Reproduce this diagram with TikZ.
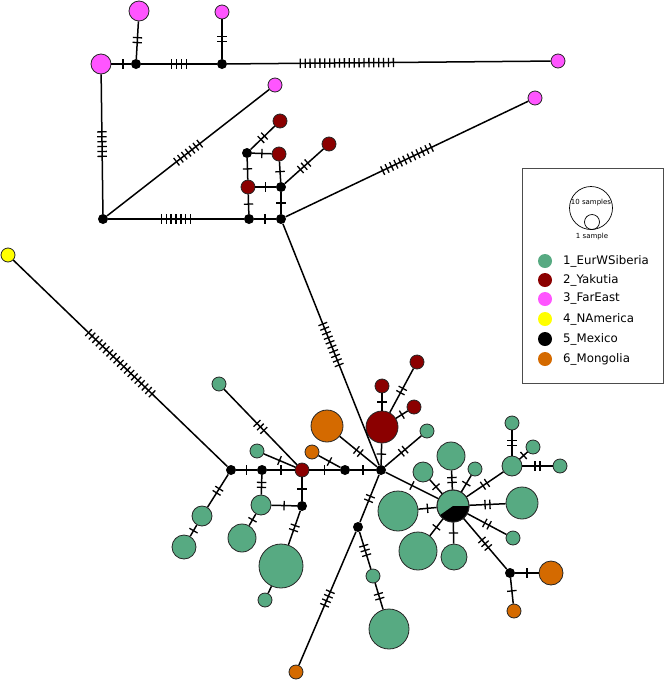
\documentclass[tikz,border=0pt]{standalone}
\usepackage{fontspec}
\setmainfont{DejaVu Sans}
\usetikzlibrary{decorations.markings}
\definecolor{cgreen}{RGB}{87,170,130}
\definecolor{cred}{RGB}{139,0,0}
\definecolor{cpink}{RGB}{255,85,255}
\definecolor{cyel}{RGB}{255,255,0}
\definecolor{corange}{RGB}{212,106,0}
\tikzset{
  hap/.style={circle, draw=black!85, line width=0.8pt, inner sep=0pt, minimum size={#1*2pt}},
  hg/.style={hap=#1, fill=cgreen},
  hr/.style={hap=#1, fill=cred},
  hp/.style={hap=#1, fill=cpink},
  hy/.style={hap=#1, fill=cyel},
  ho/.style={hap=#1, fill=corange},
  jn/.style={circle, fill=black, inner sep=0pt, minimum size=10pt},
  edge/.style={line width=1.5pt, black},
  tickln/.style={line width=1.3pt, black},
  legtext/.style={anchor=west, font=\fontsize{11.8}{13}\selectfont, inner sep=0pt},
}
\newcommand\edg[4][0.5]{%
  \ifnum#4=0\relax
    \draw[edge] (#2) -- (#3);
  \else
    \draw[edge, postaction={decorate, decoration={markings, mark=at position #1 with {%
      \foreach \k in {1,...,#4}{\draw[tickln] ({(\k-1-(#4-1)/2)*4.9pt},-4.7pt) -- ({(\k-1-(#4-1)/2)*4.9pt},4.7pt);}}}}] (#2) -- (#3);
  \fi}
\begin{document}
\begin{tikzpicture}[x=1pt, y=-1pt]
\useasboundingbox (0,0) rectangle (665,681);
% ---- nodes ----
\node[hp=10] (P1) at (101,64) {};
\node[jn] (J1) at (136,64) {};
\node[hp=10] (P2) at (139,11) {};
\node[jn] (J2) at (222,64) {};
\node[hp=7] (P3) at (222,12) {};
\node[hp=7] (P4) at (558,61) {};
\node[jn] (J3) at (103,219) {};
\node[hp=7] (P5) at (275,85) {};
\node[jn] (J4) at (249,219) {};
\node[jn] (J5) at (281,219) {};
\node[hr=7] (R1) at (248,187) {};
\node[jn] (J6) at (281,187) {};
\node[jn] (J7) at (247,153) {};
\node[hr=7] (R2) at (279,154) {};
\node[hr=7] (R3) at (280,121) {};
\node[hr=7] (R4) at (329,144) {};
\node[hp=7] (P6) at (535,98) {};
\node[jn] (H) at (381,470) {};
\node[hy=7] (Y) at (8,255) {};
\node[jn] (J8) at (231,470) {};
\node[jn] (J9) at (262,470) {};
\node[hr=7] (R5) at (302,470) {};
\node[jn] (J10) at (345,470) {};
\node[hg=7] (G1) at (219,384) {};
\node[hg=7] (G2) at (257,451) {};
\node[hg=10] (G3) at (261,505) {};
\node[jn] (J11) at (302,506) {};
\node[hg=10] (G4) at (202,516) {};
\node[hg=12] (G5) at (184,547) {};
\node[hg=14] (G6) at (242,538) {};
\node[hg=22] (G7) at (281,566) {};
\node[hg=7] (G8) at (265,600) {};
\node[ho=16] (O1) at (327,426) {};
\node[ho=7] (O2) at (312,452) {};
\node[hr=16] (R6) at (382,427) {};
\node[hr=7] (R7) at (417,362) {};
\node[hr=7] (R8) at (382,386) {};
\node[hr=7] (R9) at (414,407) {};
\node[hg=7] (G11) at (427,431) {};
\node[jn] (J12) at (358,527) {};
\node[hg=7] (G9) at (373,576) {};
\node[hg=20] (G10) at (389,629) {};
\node[ho=7] (O3) at (296,672) {};
\node[hg=16] (Q) at (453,506) {};
\fill[black] (Q.center) -- ++(0:16) arc[start angle=0, end angle=145, radius=16] -- cycle;
\draw[black!85, line width=0.8pt] (Q.center) circle[radius=16];
\node[hg=20] (G12) at (398,511) {};
\node[hg=19] (G13) at (418,551) {};
\node[hg=13] (G14) at (454,557) {};
\node[hg=10] (G15) at (423,472) {};
\node[hg=14] (G16) at (451,456) {};
\node[hg=7] (G17) at (475,469) {};
\node[hg=10] (G18) at (512,466) {};
\node[hg=16] (G19) at (522,503) {};
\node[hg=7] (G20) at (513,538) {};
\node[jn] (J13) at (510,573) {};
\node[ho=12] (O4) at (551,573) {};
\node[ho=7] (O5) at (514,611) {};
\node[hg=7] (G21) at (512,423) {};
\node[hg=7] (G22) at (533,447) {};
\node[hg=7] (G23) at (560,466) {};
% ---- edges ----
\edg[0.6]{P1}{J1}{1}
\edg{J1}{P2}{2}
\edg{J1}{J2}{4}
\edg{J2}{P3}{2}
\edg[0.37]{J2}{P4}{20}
\edg{P1}{J3}{6}
\edg{J3}{P5}{7}
\edg{J3}{J4}{7}
\edg{J4}{J5}{1}
\edg{J4}{R1}{1}
\edg{R1}{J6}{1}
\edg{J6}{J5}{1}
\edg{R1}{J7}{1}
\edg{J7}{R2}{1}
\edg{R2}{J6}{1}
\edg{J7}{R3}{2}
\edg{J6}{R4}{3}
\edg{J5}{P6}{12}
\edg{J5}{H}{10}
\edg{Y}{J8}{19}
\edg{J8}{J9}{1}
\edg{J9}{R5}{1}
\edg{R5}{J10}{1}
\edg{J10}{H}{1}
\edg{G1}{R5}{3}
\edg{G2}{R5}{1}
\edg{J9}{G3}{2}
\edg{R5}{J11}{1}
\edg{G3}{J11}{1}
\edg{J8}{G4}{2}
\edg{G4}{G5}{1}
\edg{G3}{G6}{1}
\edg{J11}{G7}{2}
\edg{G7}{G8}{0}
\edg{O1}{H}{2}
\edg{O2}{J10}{1}
\edg{R6}{H}{1}
\edg{R7}{R6}{2}
\edg{R8}{R6}{1}
\edg{R9}{R6}{1}
\edg{G11}{H}{2}
\edg{H}{J12}{2}
\edg{J12}{G9}{3}
\edg{G9}{G10}{2}
\edg{J12}{O3}{4}
\edg{H}{Q}{1}
\edg{Q}{G12}{1}
\edg{Q}{G13}{1}
\edg{Q}{G14}{1}
\edg{Q}{G15}{1}
\edg{Q}{G16}{2}
\edg{Q}{G17}{1}
\edg{Q}{G18}{2}
\edg{Q}{G19}{2}
\edg{Q}{G20}{2}
\edg{Q}{J13}{3}
\edg{J13}{O4}{1}
\edg{J13}{O5}{1}
\edg{G18}{G21}{2}
\edg{G18}{G22}{1}
\edg{G18}{G23}{2}
% ---- legend ----
\node[draw=black!70, line width=1pt, minimum width=141pt, minimum height=215pt, inner sep=0pt] (box) at (593,275.5) {};
\node[circle, draw=black, line width=0.7pt, minimum size=43pt, inner sep=0pt] (big) at (591,208) {};
\node[circle, draw=black, line width=0.7pt, minimum size=15pt, inner sep=0pt] (small) at (592,222) {};
\node[font=\fontsize{7}{8}\selectfont, inner sep=0pt] (t10) at (591,203) {10 samples};
\node[font=\fontsize{7}{8}\selectfont, inner sep=0pt] (t1) at (592,237) {1 sample};
\node[hg=7, draw=none] (L1) at (545,261) {};
\node[hr=7, draw=none] (L2) at (545,280) {};
\node[hp=7, draw=none] (L3) at (545,299) {};
\node[hy=7, draw=none] (L4) at (545,319) {};
\node[jn, minimum size=14pt] (L5) at (545,339) {};
\node[ho=7, draw=none] (L6) at (545,359) {};
\node[legtext] (T1) at (563,261) {1\_EurWSiberia};
\node[legtext] (T2) at (563,280) {2\_Yakutia};
\node[legtext] (T3) at (563,299) {3\_FarEast};
\node[legtext] (T4) at (563,319) {4\_NAmerica};
\node[legtext] (T5) at (563,339) {5\_Mexico};
\node[legtext] (T6) at (563,359) {6\_Mongolia};
\end{tikzpicture}
\end{document}
